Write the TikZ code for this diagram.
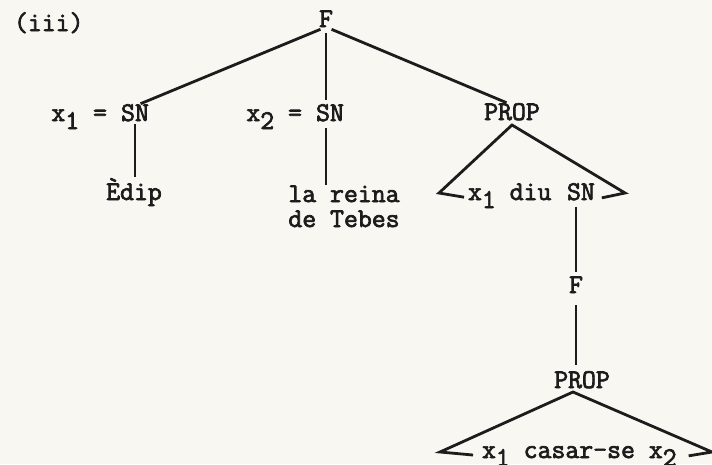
\documentclass[tikz,border=0pt]{standalone}
\usepackage{fontspec}
\usetikzlibrary{positioning}
\newfontfamily\typew{Latin Modern Mono}[FakeBold=2.6]
\definecolor{paper}{RGB}{248,247,242}
\definecolor{ink}{RGB}{28,28,28}
\tikzstyle{lbl}=[font=\typew\fontsize{27}{30}\selectfont,text=ink,inner sep=0pt,outer sep=0pt,text height=15pt,text depth=0pt]
\tikzstyle{branch}=[draw=ink,line width=2.8pt,shorten <=6pt,shorten >=6pt]
\tikzstyle{roof}=[draw=ink,line width=2.8pt,line join=miter]
\newcommand{\xsub}[1]{x\raisebox{-8pt}{#1}}

\begin{document}
\begin{tikzpicture}[x=1pt,y=-1pt]
	\fill[paper] (0,0) rectangle (712,464);
	\useasboundingbox (0,0) rectangle (712,464);
	\node[lbl,anchor=base west] (num) at (14,31) {(iii)};
	\node[lbl,anchor=base] (F) at (326,27) {F};
	% first level
	\node[lbl,anchor=base east] (eq1) at (107,121) {\xsub{1} =};
	\node[lbl,anchor=base] (sn1) at (135,121) {SN};
	\node[lbl,anchor=base east] (eq2) at (302,121) {\xsub{2} =};
	\node[lbl,anchor=base] (sn2) at (330,121) {SN};
	\node[lbl,anchor=base] (prop1) at (512,120) {PROP};
	\draw[branch] (F.south) -- (sn1.north);
	\draw[branch] (F.south) -- (sn2.north -| F.south);
	\draw[branch] (F.south) -- (prop1.north);
	% leaves
	\node[lbl,anchor=base] (edip) at (134,200) {Èdip};
	\node[lbl,anchor=base] (reina) at (344,202) {la reina};
	\node[lbl,anchor=base] (tebes) at (344,227) {de Tebes};
	\draw[branch,shorten <=3pt,shorten >=8pt] (sn1.south) -- (sn1.south |- edip.north);
	\draw[branch,shorten <=7pt,shorten >=2pt] (sn2.south -| F.south) -- (F.south |- reina.north);
	% PROP with roof
	\node[lbl,anchor=base west] (diu) at (468,200) {\xsub{1} diu};
	\node[lbl,anchor=base west] (sn3) at (567,200) {SN};
	\coordinate (l1) at (439,193);
	\coordinate (r1) at (625,193);
	\draw[roof,shorten <=4pt] (diu.mid west) -- (l1) -- ([yshift=-5pt]prop1.south) -- (r1) -- ([xshift=7pt]sn3.mid east);
	% embedded F
	\node[lbl,anchor=base] (F2) at (576,293) {F};
	\node[lbl,anchor=base] (prop2) at (582,388) {PROP};
	\draw[branch,shorten <=7pt] (sn3.south -| F2.south) -- (F2.north);
	\draw[branch,shorten <=12pt,shorten >=8pt] (F2.south) -- (prop2.north -| F2.south);
	\node[lbl,anchor=base west] (cas) at (482,458) {\xsub{1} casar-se \xsub{2}};
	\coordinate (l2) at (440,452);
	\coordinate (r2) at (712,452);
	\draw[roof,shorten <=9pt] (cas.mid west) -- (l2) -- ([shift={(-9pt,-4pt)}]prop2.south) -- (r2) -- ([xshift=12pt]cas.mid east);
\end{tikzpicture}
\end{document}
